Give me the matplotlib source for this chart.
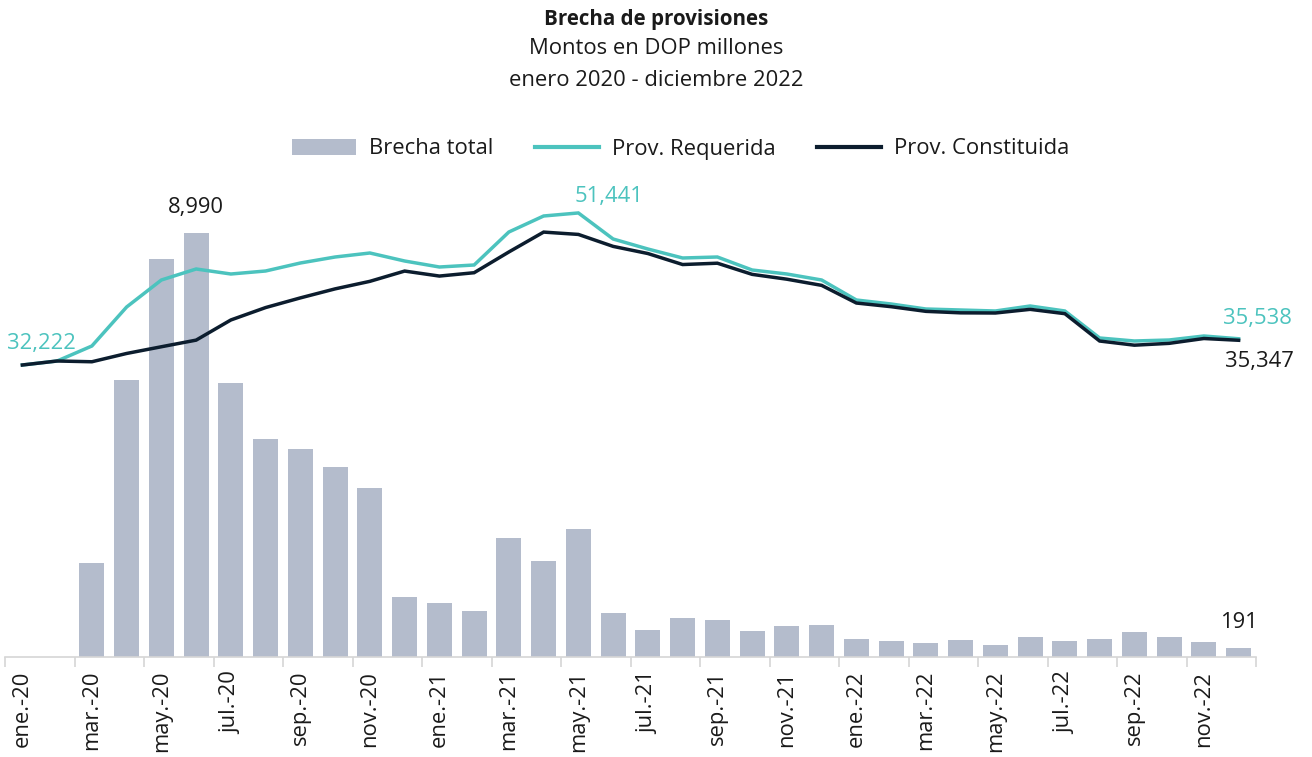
import matplotlib
matplotlib.use("Agg")
import matplotlib.pyplot as plt
from matplotlib.patches import Patch
from matplotlib.lines import Line2D
import numpy as np

plt.rcParams["font.family"] = ["Open Sans", "DejaVu Sans"]

months = ["ene.", "feb.", "mar.", "abr.", "may.", "jun.", "jul.", "ago.", "sep.", "oct.", "nov.", "dic."]
years = ["20", "21", "22"]
categories = [f"{m}-{y}" for y in years for m in months]

brecha_total = [
    0, 0, 1993, 5873, 8438, 8990, 5809, 4622, 4410, 4028, 3583, 1272,
    1145, 975, 2523, 2035, 2714, 933, 572, 827, 784, 551, 657, 678,
    382, 339, 297, 360, 254, 424, 339, 382, 530, 424, 318, 191,
]
prov_requerida = [
    32222, 32728, 34624, 39553, 42966, 44356, 43724, 44104, 45115, 45873, 46379, 45367,
    44609, 44862, 49033, 51056, 51441, 48148, 46884, 45747, 45873, 44230, 43724, 42966,
    40438, 39932, 39300, 39174, 39048, 39680, 39048, 35635, 35256, 35382, 35888, 35538,
]
prov_constituida = [
    32222, 32728, 32631, 33680, 34528, 35366, 37915, 39482, 40705, 41845, 42796, 44095,
    43464, 43887, 46510, 49021, 48727, 47215, 46312, 44920, 45089, 43679, 43067, 42288,
    40056, 39593, 39003, 38814, 38794, 39256, 38709, 35253, 34726, 34958, 35570, 35347,
]

C_BAR = "#b4bccc"
C_REQ = "#4cc3be"
C_CON = "#0c1d2e"
C_TXT = "#1a1a1a"
FS = 15.8

W, H = 1312, 757
fig = plt.figure(figsize=(W / 100, H / 100), dpi=100)

# axes placed in pixel terms: x from 5 to 1256, baseline at y=657, top at y=190
left, right, bottom_px, top_px = 5, 1256, 657, 190
ax = fig.add_axes([left / W, (H - bottom_px) / H, (right - left) / W, (bottom_px - top_px) / H])
ax2 = ax.twinx()

x = np.arange(len(categories))
ax.bar(x, brecha_total, width=0.72, color=C_BAR, zorder=1)
ax.set_xlim(-0.5, len(categories) - 0.5)
ax.set_ylim(0, 9900)

ax2.plot(x, prov_requerida, color=C_REQ, lw=2.5, solid_joinstyle="miter", zorder=3)
ax2.plot(x, prov_constituida, color=C_CON, lw=2.5, solid_joinstyle="miter", zorder=4)
ax2.set_ylim(-4687, 54342)

for a in (ax, ax2):
    for s in ("top", "right", "left"):
        a.spines[s].set_visible(False)
    a.set_yticks([])
ax2.spines["bottom"].set_visible(False)
ax.spines["bottom"].set_color("#d6d6d6")
ax.spines["bottom"].set_linewidth(1.2)

ax.set_xticks(x[::2])
ax.set_xticklabels(categories[::2], rotation=90, fontsize=FS, color=C_TXT)
ax.tick_params(axis="x", which="major", length=0, pad=10)
ax.set_xticks(list(np.arange(-0.5, len(categories) - 1, 2)) + [len(categories) - 0.5], minor=True)
ax.tick_params(axis="x", which="minor", length=7, width=1.2, color="#d6d6d6")

# data labels
imax = int(np.argmax(brecha_total))
ax.annotate(f"{brecha_total[imax]:,}", (x[imax], brecha_total[imax]), xytext=(0, 11),
            textcoords="offset points", ha="center", va="bottom", fontsize=FS, color=C_TXT)
ax.annotate(f"{brecha_total[-1]:,}", (x[-1], brecha_total[-1]), xytext=(0, 11),
            textcoords="offset points", ha="center", va="bottom", fontsize=FS, color=C_TXT)
ax2.annotate(f"{prov_requerida[0]:,}", (x[0], prov_requerida[0]), xytext=(-11, 8),
             textcoords="offset points", ha="left", va="bottom", fontsize=FS, color=C_REQ)
ipk = int(np.argmax(prov_requerida))
ax2.annotate(f"{prov_requerida[ipk]:,}", (x[ipk], prov_requerida[ipk]), xytext=(-3, 4),
             textcoords="offset points", ha="left", va="bottom", fontsize=FS, color=C_REQ)
ax2.annotate(f"{prov_requerida[-1]:,}", (x[-1], prov_requerida[-1]), xytext=(-11, 7),
             textcoords="offset points", ha="left", va="bottom", fontsize=FS, color=C_REQ,
             annotation_clip=False)
ax2.annotate(f"{prov_constituida[-1]:,}", (x[-1], prov_constituida[-1]), xytext=(-10, -8),
             textcoords="offset points", ha="left", va="top", fontsize=FS, color=C_TXT,
             annotation_clip=False)

# titles
fig.text(656 / W, 1 - 19 / H, "Brecha de provisiones", ha="center", va="center",
         fontsize=FS - 1, fontweight="bold", color=C_TXT)
fig.text(656 / W, 1 - 49 / H, "Montos en DOP millones", ha="center", va="center",
         fontsize=FS, color=C_TXT)
fig.text(656 / W, 1 - 80 / H, "enero 2020 - diciembre 2022", ha="center", va="center",
         fontsize=FS, color=C_TXT)

handles = [
    Patch(facecolor=C_BAR, edgecolor="none"),
    Line2D([0], [0], color=C_REQ, lw=3),
    Line2D([0], [0], color=C_CON, lw=3),
]
fig.legend(handles, ["Brecha total", "Prov. Requerida", "Prov. Constituida"],
           loc="center", bbox_to_anchor=(681 / W, 1 - 149 / H), ncol=3, frameon=False,
           fontsize=FS, handlelength=2.9, handleheight=0.75, columnspacing=1.9,
           handletextpad=0.6, labelcolor=C_TXT)

fig.savefig("out.png", dpi=100)
